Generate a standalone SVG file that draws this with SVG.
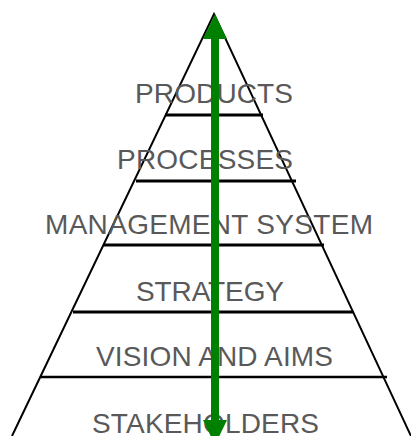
<svg xmlns="http://www.w3.org/2000/svg" width="411" height="436" viewBox="0 0 411 436">
<style>
.side{stroke:#000;stroke-width:2;fill:none}
.tier{stroke:#000;stroke-width:3;fill:none}
.lbl{font-family:"Liberation Sans",Arial,sans-serif;font-size:28px;fill:#595959}
.arr{fill:#008000}
</style>
<rect width="411" height="436" fill="#fff"/>
<g id="pyramid">
<polyline class="side" points="12,436 214,14 411,436"/>
<line class="tier" x1="165" y1="115" x2="263" y2="115"/>
<line class="tier" x1="136" y1="181" x2="296" y2="181"/>
<line class="tier" x1="103" y1="245" x2="324" y2="245"/>
<line class="tier" x1="73" y1="312" x2="353" y2="312"/>
<line class="tier" x1="40" y1="377" x2="387" y2="377" style="stroke-width:2.5"/>
</g>
<g id="labels">
<text id="products" class="lbl" x="135" y="103" textLength="158">PRODUCTS</text>
<text id="processes" class="lbl" x="117" y="169" textLength="176">PROCESSES</text>
<text id="management" class="lbl" x="45" y="234" textLength="328">MANAGEMENT SYSTEM</text>
<text id="strategy" class="lbl" x="136" y="301" textLength="148">STRATEGY</text>
<text id="vision" class="lbl" x="96" y="366" textLength="237">VISION AND AIMS</text>
<text id="stakeholders" class="lbl" x="92" y="433" textLength="227">STAKEHOLDERS</text>
</g>
<g id="connectors">
<rect class="arr" x="211" y="38" width="8" height="383"/>
<polygon class="arr" points="215,14 203,39 227,39"/>
<polygon class="arr" points="203,420 227,420 215,445"/>
</g>
</svg>
